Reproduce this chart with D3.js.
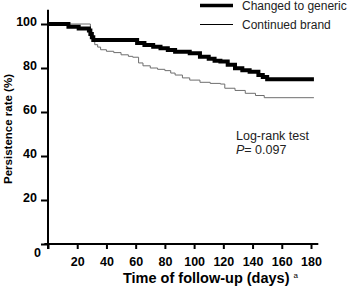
<!DOCTYPE html>
<html>
<head>
<meta charset="utf-8">
<script src="https://cdn.jsdelivr.net/npm/d3@7"></script>
<style>
  body { margin: 0; background: #fff; }
  svg { display: block; font-family: "Liberation Sans", Arial, sans-serif; }
  .tick text { font-weight: bold; font-size: 12.5px; fill: #000; }
</style>
</head>
<body>
<svg id="chart"></svg>
<script>
// Kaplan-Meier style persistence curves
const genericDays = [0, 14, 21, 28, 29, 30, 31, 61, 66, 72, 77, 82, 87, 97, 104, 110, 114, 118, 123, 128, 133, 138, 144, 147, 150, 182];
const genericPct  = [100, 98.8, 98, 97, 95.5, 94, 92.7, 91.4, 90.5, 89.7, 89, 88.2, 87.4, 86.7, 85.1, 84.2, 83.3, 82.9, 81.5, 79.9, 79, 78.3, 76.8, 75.9, 74.9, 74.9];

const brandDays = [0, 29, 30, 31, 32, 34, 36, 40, 45, 50, 55, 58, 62, 65, 70, 75, 80, 84, 87, 92, 97, 104, 111, 118, 121, 128, 135, 142, 148, 182];
const brandPct  = [100, 95, 93.5, 92, 90.6, 89.5, 88.3, 87.6, 87, 86, 85.3, 84.9, 82.3, 81, 80, 79.4, 78.8, 77.7, 76.8, 75.5, 74.5, 73.5, 73, 72.7, 70.8, 69.8, 68.5, 67.5, 66.5, 66.5];

const xTicks = [0, 20, 40, 60, 80, 100, 120, 140, 160, 180];
const yTicks = [0, 20, 40, 60, 80, 100];
const seriesNames = ["Changed to generic", "Continued brand"];

const width = 356, height = 288;

const svg = d3.select("#chart")
  .attr("width", width)
  .attr("height", height);

const x = d3.scaleLinear().domain([0, 180]).range([48, 311]);
const y = d3.scaleLinear().domain([0, 100]).range([244, 24]);

// axes
const xAxis = svg.append("g")
  .attr("transform", "translate(0," + y(0) + ")")
  .call(d3.axisBottom(x).tickValues(xTicks).tickSize(5).tickPadding(8)
    .tickFormat(d => d === 0 ? "" : d));
xAxis.select(".domain").remove();
xAxis.selectAll(".tick line").attr("stroke-width", 2);

const yAxis = svg.append("g")
  .attr("transform", "translate(" + x(0) + ",0)")
  .call(d3.axisLeft(y).tickValues(yTicks).tickSize(7).tickPadding(4)
    .tickFormat(d => d === 0 ? "" : d));
yAxis.select(".domain").remove();
yAxis.selectAll(".tick line").attr("stroke-width", 2);
yAxis.selectAll(".tick text").attr("dy", "0.1em");

// axis lines, stretched a little past the ends like the original
svg.append("line")
  .attr("x1", x(-2.5)).attr("x2", x(185))
  .attr("y1", y(0)).attr("y2", y(0))
  .attr("stroke", "#000").attr("stroke-width", 2);
svg.append("line")
  .attr("x1", x(0)).attr("x2", x(0))
  .attr("y1", y(-2.3)).attr("y2", y(106.5))
  .attr("stroke", "#000").attr("stroke-width", 2);

svg.append("text")
  .attr("x", x(0) - 7).attr("y", y(0) + 13)
  .attr("text-anchor", "end")
  .attr("font-weight", "bold").attr("font-size", 12.5)
  .text("0");

// curves
const line = d3.line()
  .x(d => x(d[0]))
  .y(d => y(d[1]))
  .curve(d3.curveStepAfter);

svg.append("path")
  .datum(brandDays.map((d, i) => [d, brandPct[i]]))
  .attr("fill", "none")
  .attr("stroke", "#6e6e6e")
  .attr("stroke-width", 1)
  .attr("d", line);

svg.append("path")
  .datum(genericDays.map((d, i) => [d, genericPct[i]]))
  .attr("fill", "none")
  .attr("stroke", "#000")
  .attr("stroke-width", 4)
  .attr("d", line);

// legend
const legend = svg.append("g");
legend.append("line")
  .attr("x1", 200).attr("x2", 233).attr("y1", 5.5).attr("y2", 5.5)
  .attr("stroke", "#000").attr("stroke-width", 3.5);
legend.append("line")
  .attr("x1", 200).attr("x2", 233).attr("y1", 24.5).attr("y2", 24.5)
  .attr("stroke", "#000").attr("stroke-width", 1);
legend.selectAll("text.leg")
  .data(seriesNames)
  .enter()
  .append("text")
  .attr("class", "leg")
  .attr("x", 242)
  .attr("y", (d, i) => 9.5 + i * 19)
  .attr("font-size", 12)
  .attr("fill", "#222")
  .text(d => d);

// log-rank annotation
svg.append("text")
  .attr("x", 236).attr("y", 140)
  .attr("font-size", 12.5).attr("fill", "#222")
  .text("Log-rank test");
const p = svg.append("text")
  .attr("x", 236).attr("y", 154)
  .attr("font-size", 12.5).attr("fill", "#222");
p.append("tspan").attr("font-style", "italic").text("P");
p.append("tspan").text("= 0.097");

// axis titles
const xt = svg.append("text")
  .attr("x", 123).attr("y", 283)
  .attr("font-weight", "bold").attr("font-size", 14.5)
  .text("Time of follow-up (days) ");
xt.append("tspan")
  .attr("font-size", 8).attr("dy", -5).attr("font-weight", "normal")
  .text("a");

svg.append("text")
  .attr("transform", "translate(12," + 129 + ") rotate(-90)")
  .attr("text-anchor", "middle")
  .attr("font-weight", "bold").attr("font-size", 11.5)
  .text("Persistence rate (%)");
</script>
</body>
</html>
